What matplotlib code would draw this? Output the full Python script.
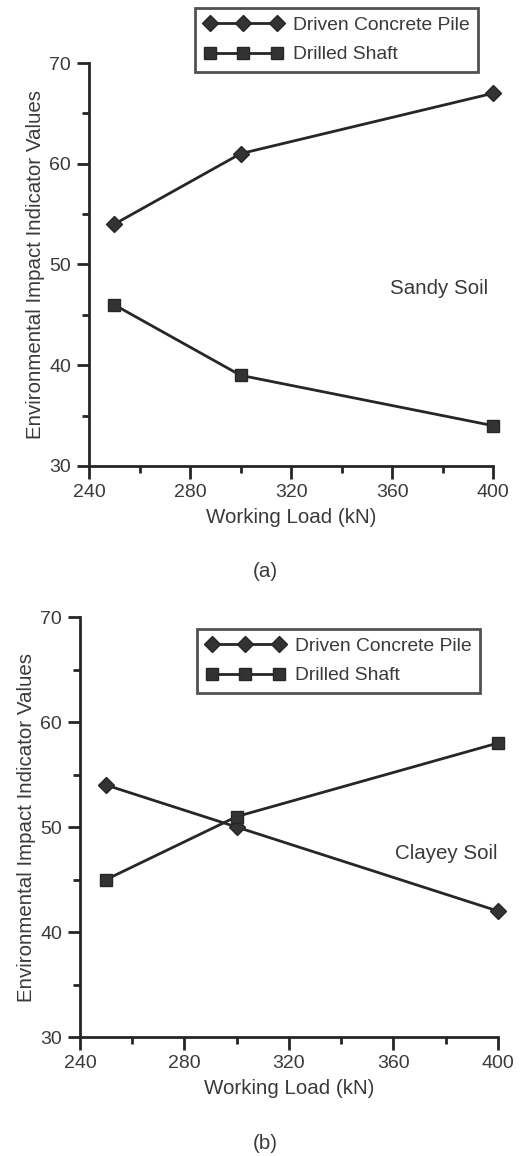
import matplotlib
matplotlib.use('Agg')
from matplotlib import pyplot as plt
from matplotlib.ticker import MultipleLocator

plt.rcParams['font.family'] = ['Liberation Sans', 'DejaVu Sans']

# dados
load = [250, 300, 400]
sandy_driven = [54, 61, 67]
sandy_drilled = [46, 39, 34]
clayey_driven = [54, 50, 42]
clayey_drilled = [45, 51, 58]

labels = ['Driven Concrete Pile', 'Drilled Shaft']
xticks = [240, 280, 320, 360, 400]
yticks = [30, 40, 50, 60, 70]

line_c = '#262626'
text_c = '#3a3a3a'
fs = 14
fs_lab = 14.8

fig = plt.figure(figsize=(5.25, 11.56), dpi=100)

panels = [
    # axes rect, legend anchor, soil text pos, soil text, series, caption, caption y
    ([0.1695, 0.5969, 0.770, 0.3486], (0.9105, 0.9931), (0.988, 0.44), 'Sandy Soil',
     sandy_driven, sandy_drilled, '(a)', 0.497),
    ([0.1524, 0.1029, 0.796, 0.3633], (0.914, 0.4559), (1.0, 0.438), 'Clayey Soil',
     clayey_driven, clayey_drilled, '(b)', 0.003),
]

for rect, anchor, soil_pos, soil, driven, drilled, cap, cap_y in panels:
    ax = fig.add_axes(rect)
    ax.plot(load, driven, color=line_c, lw=2, marker='D', ms=8,
            mfc='#333333', mec=line_c, label=labels[0], clip_on=False)
    ax.plot(load, drilled, color=line_c, lw=2, marker='s', ms=9,
            mfc='#333333', mec=line_c, label=labels[1], clip_on=False)
    ax.set_xlim(240, 400)
    ax.set_ylim(30, 70)
    ax.set_xticks(xticks)
    ax.set_yticks(yticks)
    ax.xaxis.set_minor_locator(MultipleLocator(20))
    ax.yaxis.set_minor_locator(MultipleLocator(5))
    ax.spines['top'].set_visible(False)
    ax.spines['right'].set_visible(False)
    for s in ['left', 'bottom']:
        ax.spines[s].set_linewidth(2)
        ax.spines[s].set_color(line_c)
    ax.tick_params(which='major', length=9, width=2, color=line_c,
                   labelsize=fs, labelcolor=text_c, pad=4)
    ax.tick_params(which='minor', length=5, width=2, color=line_c)
    ax.set_xlabel('Working Load (kN)', fontsize=fs_lab, color=text_c, labelpad=5)
    ax.set_ylabel('Environmental Impact Indicator Values', fontsize=fs_lab,
                  color=text_c, labelpad=3)
    ax.text(soil_pos[0], soil_pos[1], soil, transform=ax.transAxes, fontsize=fs_lab,
            color=text_c, ha='right', va='center')
    leg = fig.legend(loc='upper right', bbox_to_anchor=anchor, handles=ax.lines,
                     numpoints=3, handlelength=4.1, fontsize=13.9, frameon=True,
                     fancybox=False, borderpad=0.45, labelspacing=0.6,
                     handletextpad=0.5, borderaxespad=0)
    leg.get_frame().set_edgecolor(line_c)
    leg.get_frame().set_linewidth(2)
    for t in leg.get_texts():
        t.set_color(text_c)
    fig.text(0.505, cap_y, cap, ha='center', va='bottom', fontsize=fs_lab,
             color=text_c)

fig.savefig('out.png', dpi=100)
